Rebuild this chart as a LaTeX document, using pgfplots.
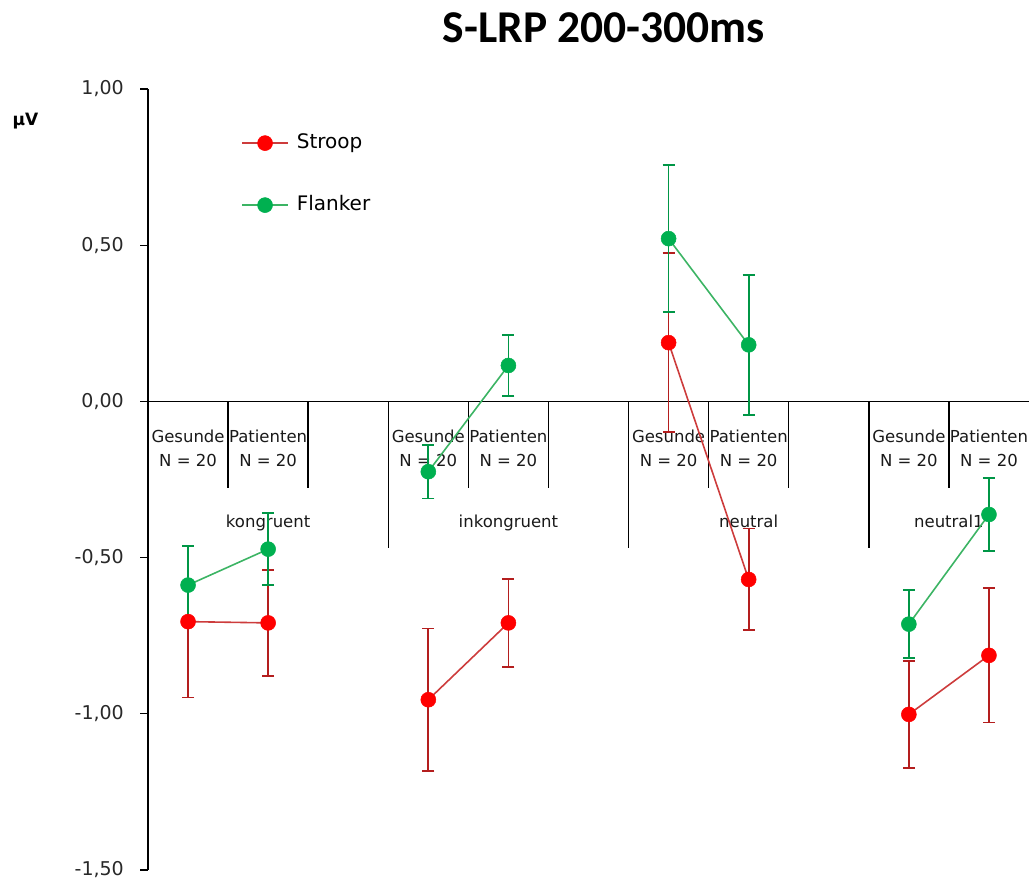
\documentclass[border=0pt]{standalone}
\usepackage{fontspec}
\setmainfont{DejaVu Sans}
\newfontfamily\carlito{Carlito}
\usepackage{pgfplots}
\usepackage{pgfplotstable}
\pgfplotsset{compat=1.18}
\definecolor{strRed}{RGB}{255,0,0}
\definecolor{strLine}{RGB}{205,60,60}
\definecolor{strErr}{RGB}{180,30,30}
\definecolor{flaGreen}{RGB}{0,176,80}
\definecolor{flaLine}{RGB}{60,180,100}
\definecolor{flaErr}{RGB}{0,150,70}
\definecolor{tickgray}{RGB}{40,40,40}

\pgfplotstableread{
x y e
0 -0.705 0.243
1 -0.709 0.170
3 -0.955 0.228
4 -0.709 0.140
6 0.188 0.287
7 -0.570 0.163
9 -1.002 0.172
10 -0.813 0.215
}\stroop

\pgfplotstableread{
x y e
0 -0.588 0.126
1 -0.473 0.115
3 -0.225 0.086
4 0.115 0.097
6 0.521 0.236
7 0.181 0.224
9 -0.713 0.108
10 -0.362 0.117
}\flanker

\pgfplotsset{
  stroopsty/.style={color=strLine, line width=1.6pt, mark=*, mark size=7.5pt,
    mark options={draw=strRed, fill=strRed, line width=0.5pt},
    error bars/y dir=both, error bars/y explicit,
    error bars/error bar style={color=strErr, line width=1.8pt},
    error bars/error mark options={rotate=90, mark size=6pt, color=strErr, line width=1.8pt}},
  flankersty/.style={color=flaLine, line width=1.6pt, mark=*, mark size=7.5pt,
    mark options={draw=flaGreen, fill=flaGreen, line width=0.5pt},
    error bars/y dir=both, error bars/y explicit,
    error bars/error bar style={color=flaErr, line width=1.8pt},
    error bars/error mark options={rotate=90, mark size=6pt, color=flaErr, line width=1.8pt}},
}

\begin{document}
\begin{tikzpicture}[x=1pt,y=1pt]
\useasboundingbox (0,0) rectangle (1029,882);
\node[anchor=base, font=\carlito\bfseries\fontsize{45.5}{50}\selectfont] at (604,839) {S-LRP 200-300ms};
\node[anchor=base, font=\bfseries\fontsize{17}{20}\selectfont] at (25.5,756) {μV};
\begin{axis}[
  at={(148pt,12pt)}, anchor=south west,
  width=881pt, height=781pt, scale only axis,
  clip=false,
  xmin=-0.5, xmax=10.5, ymin=-1.5, ymax=1,
  axis x line=none, axis y line*=left,
  ytick={-1.5,-1,-0.5,0,0.5,1},
  ytick pos=left,
  tick align=outside, major tick length=8pt,
  y tick style={black, line width=1.3pt},
  axis line style={black, line width=1.5pt},
  yticklabel style={/pgf/number format/fixed, /pgf/number format/fixed zerofill, /pgf/number format/precision=2, /pgf/number format/use comma, /pgf/number format/assume math mode=true,
    font=\fontsize{19}{20}\selectfont, text=tickgray, inner sep=0pt, xshift=-16pt},
  legend style={draw=none, fill=none, at={(rel axis cs:0.1056,0.891)}, anchor=west, inner sep=0pt,
    row sep=42pt, font=\fontsize{20}{20}\selectfont,
    nodes={inner sep=0pt, text height=15pt, text depth=5pt},
    /tikz/every odd column/.append style={column sep=8pt}},
  legend cell align=left,
  legend image code/.code={\draw[mark repeat=2, mark phase=2] plot coordinates {(0pt,0pt) (23pt,0pt) (46pt,0pt)};},
]
% zero line and separators
\draw[black, line width=1.5pt] (axis cs:-0.5,0) -- (axis cs:10.5,0);
\draw[black, line width=1.5pt] (axis cs:0.5,0) -- (axis cs:0.5,-0.277);
\draw[black, line width=1.5pt] (axis cs:1.5,0) -- (axis cs:1.5,-0.277);
\draw[black, line width=1.5pt] (axis cs:3.5,0) -- (axis cs:3.5,-0.277);
\draw[black, line width=1.5pt] (axis cs:4.5,0) -- (axis cs:4.5,-0.277);
\draw[black, line width=1.5pt] (axis cs:6.5,0) -- (axis cs:6.5,-0.277);
\draw[black, line width=1.5pt] (axis cs:7.5,0) -- (axis cs:7.5,-0.277);
\draw[black, line width=1.5pt] (axis cs:9.5,0) -- (axis cs:9.5,-0.277);
\draw[black, line width=1.5pt] (axis cs:2.5,0) -- (axis cs:2.5,-0.47);
\draw[black, line width=1.5pt] (axis cs:5.5,0) -- (axis cs:5.5,-0.47);
\draw[black, line width=1.5pt] (axis cs:8.5,0) -- (axis cs:8.5,-0.47);
% category labels
\tikzset{cat/.style={anchor=base, font=\fontsize{16.5}{18}\selectfont, text=black!90, inner sep=0pt}}
\node[cat] at (axis cs:0,-0.132) {Gesunde};
\node[cat] at (axis cs:1,-0.132) {Patienten};
\node[cat] at (axis cs:3,-0.132) {Gesunde};
\node[cat] at (axis cs:4,-0.132) {Patienten};
\node[cat] at (axis cs:6,-0.132) {Gesunde};
\node[cat] at (axis cs:7,-0.132) {Patienten};
\node[cat] at (axis cs:9,-0.132) {Gesunde};
\node[cat] at (axis cs:10,-0.132) {Patienten};
\node[cat] at (axis cs:0,-0.209) {N = 20};
\node[cat] at (axis cs:1,-0.209) {N = 20};
\node[cat] at (axis cs:3,-0.209) {N = 20};
\node[cat] at (axis cs:4,-0.209) {N = 20};
\node[cat] at (axis cs:6,-0.209) {N = 20};
\node[cat] at (axis cs:7,-0.209) {N = 20};
\node[cat] at (axis cs:9,-0.209) {N = 20};
\node[cat] at (axis cs:10,-0.209) {N = 20};
\node[cat] at (axis cs:1,-0.404) {kongruent};
\node[cat] at (axis cs:4,-0.404) {inkongruent};
\node[cat] at (axis cs:7,-0.404) {neutral};
\node[cat] at (axis cs:9.5,-0.404) {neutral1};
% Stroop
\addplot[stroopsty, restrict x to domain=-0.1:1.1] table[x=x, y=y, y error=e] {\stroop};
\addlegendentry{Stroop}
\addplot[stroopsty, forget plot, restrict x to domain=2.9:4.1] table[x=x, y=y, y error=e] {\stroop};
\addplot[stroopsty, forget plot, restrict x to domain=5.9:7.1] table[x=x, y=y, y error=e] {\stroop};
\addplot[stroopsty, forget plot, restrict x to domain=8.9:10.1] table[x=x, y=y, y error=e] {\stroop};
% Flanker
\addplot[flankersty, restrict x to domain=-0.1:1.1] table[x=x, y=y, y error=e] {\flanker};
\addlegendentry{Flanker}
\addplot[flankersty, forget plot, restrict x to domain=2.9:4.1] table[x=x, y=y, y error=e] {\flanker};
\addplot[flankersty, forget plot, restrict x to domain=5.9:7.1] table[x=x, y=y, y error=e] {\flanker};
\addplot[flankersty, forget plot, restrict x to domain=8.9:10.1] table[x=x, y=y, y error=e] {\flanker};
\end{axis}
\end{tikzpicture}
\end{document}
